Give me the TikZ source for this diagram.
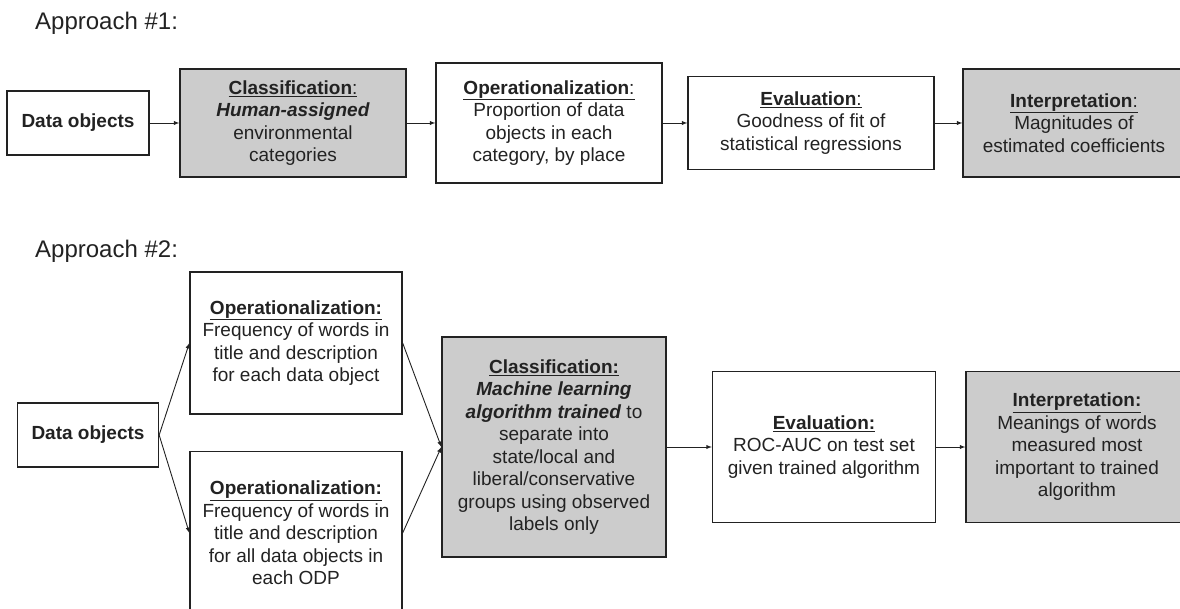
\documentclass[tikz,border=0pt]{standalone}
\usepackage{fontspec}
\setmainfont{Liberation Sans}
\usepackage{xcolor}
\usepackage{tikz}
\usetikzlibrary{arrows}
\definecolor{boxgray}{HTML}{CCCCCC}
\definecolor{ink}{HTML}{222222}

\begin{document}
\begin{tikzpicture}[x=1pt,y=-1pt,
    box/.style={draw=ink,line width=1.3pt,inner sep=0pt,align=center,text=ink,
        font=\fontsize{19}{22.5}\selectfont},
    shaded/.style={box,fill=boxgray},
    link/.style={-latex,line width=0.9pt,draw=ink},
    heading/.style={anchor=west,inner sep=0pt,text=ink,font=\fontsize{24}{28}\selectfont}]
    \useasboundingbox (0,0) rectangle (1180,609);
    \clip (0,0) rectangle (1180,609);

    \node[heading] (head1) at (35,23) {Approach \#1:};
    \node[heading] (head2) at (35,251) {Approach \#2:};

    \node[box,minimum width=142pt,minimum height=64pt] (data1) at (78,123)
        {\textbf{Data objects}};
    \node[shaded,minimum width=226pt,minimum height=108pt] (class1) at (293,123)
        {\underline{\textbf{Classification}:}\\
         \textbf{\textit{Human-assigned}}\\
         environmental\\
         categories};
    \node[box,minimum width=226pt,minimum height=120pt] (oper1) at (549,123)
        {\underline{\textbf{Operationalization}:}\\
         Proportion of data\\
         objects in each\\
         category, by place};
    \node[box,minimum width=246pt,minimum height=93pt] (eval1) at (811,123)
        {\underline{\textbf{Evaluation}:}\\
         Goodness of fit of\\
         statistical regressions};
    \node[shaded,minimum width=222pt,minimum height=108pt] (interp1) at (1074,123)
        {\underline{\textbf{Interpretation}:}\\
         Magnitudes of\\
         estimated coefficients};

    \draw[link] (data1) -- (class1);
    \draw[link] (class1) -- (oper1);
    \draw[link] (oper1) -- (eval1);
    \draw[link] (eval1) -- (interp1);

    \node[box,minimum width=141pt,minimum height=64pt] (data2) at (88,435)
        {\textbf{Data objects}};
    \node[box,minimum width=212pt,minimum height=142pt] (operA) at (296,343)
        {\underline{\textbf{Operationalization:}}\\
         Frequency of words in\\
         title and description\\
         for each data object};
    \node[box,minimum width=212pt,minimum height=163pt] (operB) at (296,533)
        {\underline{\textbf{Operationalization:}}\\
         Frequency of words in\\
         title and description\\
         for all data objects in\\
         each ODP};
    \node[shaded,minimum width=224pt,minimum height=220pt] (class2) at (554,447)
        {\underline{\textbf{Classification:}}\\
         \textbf{\textit{Machine learning}}\\
         \textbf{\textit{algorithm trained}} to\\
         separate into\\
         state/local and\\
         liberal/conservative\\
         groups using observed\\
         labels only};
    \node[box,minimum width=223pt,minimum height=151pt] (eval2) at (824,447)
        {\underline{\textbf{Evaluation:}}\\
         ROC-AUC on test set\\
         given trained algorithm};
    \node[shaded,minimum width=222pt,minimum height=151pt] (interp2) at (1077,447)
        {\underline{\textbf{Interpretation:}}\\
         Meanings of words\\
         measured most\\
         important to trained\\
         algorithm};

    \draw[link] (data2.east) -- (operA.west);
    \draw[link] (data2.east) -- (operB.west);
    \draw[link] (operA.east) -- (class2.west);
    \draw[link] (operB.east) -- (class2.west);
    \draw[link] (class2) -- (eval2);
    \draw[link] (eval2) -- (interp2);
\end{tikzpicture}
\end{document}
